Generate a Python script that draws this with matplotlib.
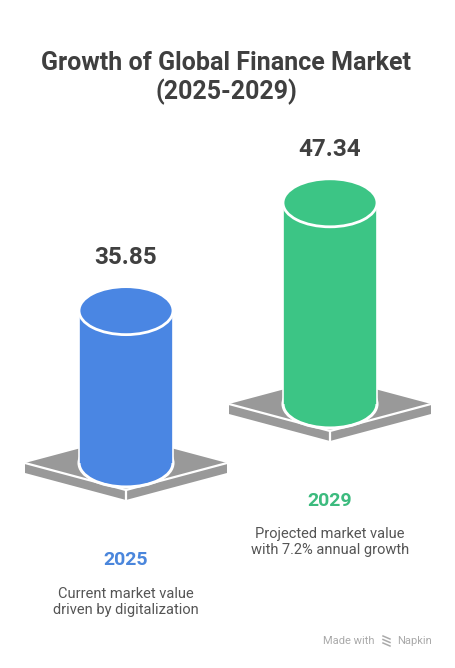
import matplotlib
matplotlib.use('Agg')
import matplotlib.pyplot as plt
from matplotlib.patches import Polygon, Ellipse, Rectangle

plt.rcParams['font.family'] = ['Roboto', 'DejaVu Sans']

# Chart data
years = ['2025', '2029']
values = [35.85, 47.34]
notes = ['Current market value\ndriven by digitalization',
         'Projected market value\nwith 7.2% annual growth']
title = 'Growth of Global Finance Market\n(2025-2029)'

# Styling / layout (pixel space, y grows downward)
colors = ['#4a86e3', '#3cc585']
text_colors = ['#4a86dc', '#3cbb7e']
base_x = [126, 330]
base_y = [463, 404]
px_per_unit = 4.25
cyl_rx, cyl_ry = 47, 24
plat_w, plat_h, plat_t = 101, 27, 10
gray = '#999999'
year_y = [560, 501]
note_y = [602, 542]

fig = plt.figure(figsize=(4.56, 6.68), dpi=100)
ax = fig.add_axes([0, 0, 1, 1])
ax.set_xlim(0, 456)
ax.set_ylim(668, 0)
ax.axis('off')

for i in range(len(values)):
    cx, cy = base_x[i], base_y[i]

    # Platform: top face + front thickness
    left = (cx - plat_w, cy)
    right = (cx + plat_w, cy)
    front = (cx, cy + plat_h)
    back = (cx, cy - plat_h)
    ax.add_patch(Polygon([left, front, (front[0], front[1] + plat_t),
                          (left[0], left[1] + plat_t)], closed=True,
                         fc=gray, ec='none'))
    ax.add_patch(Polygon([right, front, (front[0], front[1] + plat_t),
                          (right[0], right[1] + plat_t)], closed=True,
                         fc=gray, ec='none'))
    ax.add_patch(Polygon([left, front, right, back], closed=True,
                         fc=gray, ec='none'))
    ax.plot([left[0], front[0], right[0]], [left[1], front[1], right[1]],
            color='white', lw=1.6, solid_capstyle='butt')
    ax.plot([front[0], front[0]], [front[1], front[1] + plat_t],
            color='white', lw=1.6)

    # Cylinder
    h = values[i] * px_per_unit
    top = cy - h
    ax.add_patch(Ellipse((cx, cy), 2 * cyl_rx, 2 * cyl_ry, fc=colors[i],
                         ec='white', lw=2.2))
    ax.add_patch(Rectangle((cx - cyl_rx, top), 2 * cyl_rx, h,
                           fc=colors[i], ec='none'))
    ax.plot([cx - cyl_rx, cx - cyl_rx], [top, cy], color='white', lw=1.2)
    ax.plot([cx + cyl_rx, cx + cyl_rx], [top, cy], color='white', lw=1.2)
    ax.add_patch(Ellipse((cx, top), 2 * cyl_rx, 2 * cyl_ry, fc=colors[i],
                         ec='white', lw=2.0))

    # Value label above cylinder
    ax.text(cx, top - cyl_ry - 29, f'{values[i]:.2f}', ha='center',
            va='center', fontsize=17.5, fontweight='bold', color='#404040')

    # Year and note
    ax.text(cx, year_y[i], years[i], ha='center', va='center',
            fontsize=14, fontweight='bold', color=text_colors[i])
    ax.text(cx, note_y[i], notes[i], ha='center', va='center',
            fontsize=10.5, color='#555555', linespacing=1.25)

ax.text(226, 78, title, ha='center', va='center', fontsize=18,
        fontweight='bold', color='#3f3f3f', linespacing=1.15)

# Watermark
ax.text(323, 641, 'Made with', ha='left', va='center', fontsize=8,
        color='#aaaaaa')
ax.text(432, 641, 'Napkin', ha='right', va='center', fontsize=8,
        color='#aaaaaa')
for k in range(3):
    ax.plot([383, 390], [636 + k * 3.5, 639 + k * 3.5], color='#aaaaaa', lw=1.1)

fig.savefig('out.png', dpi=100)
